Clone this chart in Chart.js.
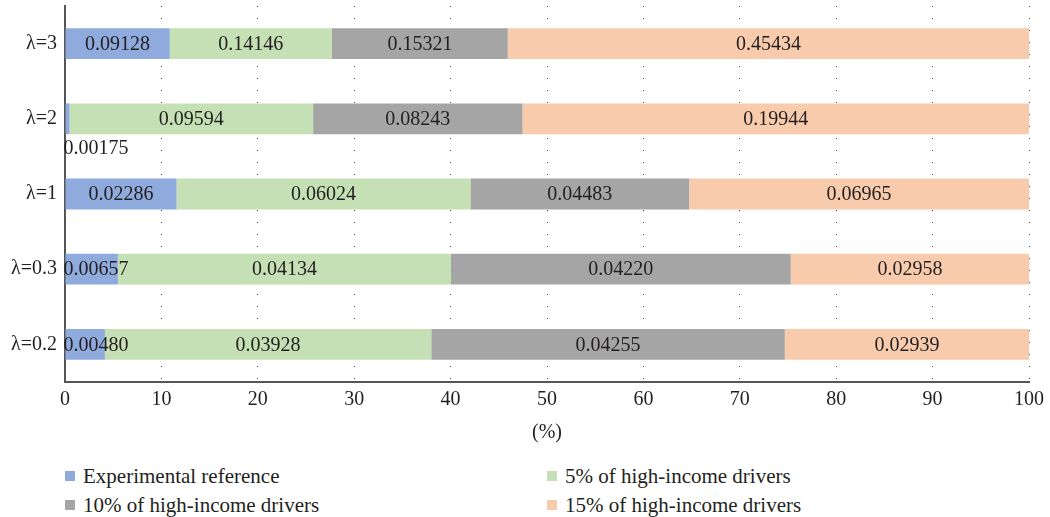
<!DOCTYPE html>
<html>
<head>
<meta charset="utf-8">
<script src="https://cdn.jsdelivr.net/npm/chart.js@4/dist/chart.umd.min.js"></script>
<style>
  html, body { margin: 0; padding: 0; background: #ffffff; }
  #wrap { position: relative; width: 1050px; height: 517px; overflow: hidden; }
  #c { position: absolute; left: 0; top: 0; }
  .item {
    position: absolute; white-space: nowrap; display: flex; align-items: center;
    font-family: "Liberation Serif", serif; font-size: 21px; line-height: 24px; color: #231f20;
  }
  .sw { width: 10px; height: 10px; margin-right: 8px; flex: none; }
</style>
</head>
<body>
<div id="wrap">
  <canvas id="c" width="1050" height="450"></canvas>
  <div id="legend"></div>
</div>
<script>
// Rows, top to bottom
const categories = ["λ=3", "λ=2", "λ=1", "λ=0.3", "λ=0.2"];

// Series names and colours
const seriesNames = [
  "Experimental reference",
  "5% of high-income drivers",
  "10% of high-income drivers",
  "15% of high-income drivers"
];
const seriesColors = ["#8faadc", "#c5e0b4", "#a5a5a5", "#f8cbad"];

// Values per row (same order as categories)
const experimental = [0.09128, 0.00175, 0.02286, 0.00657, 0.00480];
const highIncome5  = [0.14146, 0.09594, 0.06024, 0.04134, 0.03928];
const highIncome10 = [0.15321, 0.08243, 0.04483, 0.04220, 0.04255];
const highIncome15 = [0.45434, 0.19944, 0.06965, 0.02958, 0.02939];

// X axis ticks (%)
const xTicks = [0, 10, 20, 30, 40, 50, 60, 70, 80, 90, 100];

const series = [experimental, highIncome5, highIncome10, highIncome15];

// Share of each value in its row total, in percent
const rowTotals = categories.map((_, i) => series.reduce((s, arr) => s + arr[i], 0));
const toShare = arr => arr.map((v, i) => v / rowTotals[i] * 100);

const FONT = '"Liberation Serif", "Times New Roman", serif';
const TEXT = '#231f20';

// Writes each raw value on its segment
const valueLabels = {
  id: 'valueLabels',
  afterDatasetsDraw(chart) {
    const ctx = chart.ctx;
    ctx.save();
    ctx.font = '20px ' + FONT;
    ctx.fillStyle = TEXT;
    ctx.textBaseline = 'middle';
    chart.data.datasets.forEach((ds, di) => {
      const meta = chart.getDatasetMeta(di);
      meta.data.forEach((bar, i) => {
        const txt = ds.raw[i].toFixed(5);
        const w = ctx.measureText(txt).width;
        const left = Math.min(bar.base, bar.x);
        const right = Math.max(bar.base, bar.x);
        const segW = right - left;
        if (segW >= w + 4) {
          ctx.textAlign = 'center';
          ctx.fillText(txt, (left + right) / 2, bar.y + 1);
        } else if (segW >= 12) {
          ctx.textAlign = 'left';
          ctx.fillText(txt, left - 2, bar.y + 1);
        } else {
          // too thin to hold text: write it under the bar
          ctx.textAlign = 'left';
          ctx.fillText(txt, left - 2, bar.y + bar.height / 2 + 15);
        }
      });
    });
    ctx.restore();
  }
};

const datasets = series.map((arr, k) => ({
  label: seriesNames[k],
  data: toShare(arr),
  raw: arr,
  backgroundColor: seriesColors[k],
  borderWidth: 0,
  barPercentage: 0.41,
  categoryPercentage: 1.0
}));

new Chart(document.getElementById('c'), {
  type: 'bar',
  data: { labels: categories, datasets },
  plugins: [valueLabels],
  options: {
    indexAxis: 'y',
    responsive: false,
    animation: false,
    layout: { padding: { top: 6, right: 21, left: 0, bottom: 0 } },
    plugins: {
      legend: { display: false },
      tooltip: { enabled: false }
    },
    scales: {
      x: {
        stacked: true,
        min: 0,
        max: 100,
        afterBuildTicks: s => { s.ticks = xTicks.map(v => ({ value: v })); },
        afterFit: s => { s.height = 68; },
        ticks: { color: TEXT, font: { family: FONT, size: 20 }, padding: 6, maxRotation: 0 },
        grid: { display: true, color: '#555555', lineWidth: 1, drawTicks: false },
        border: { display: true, color: '#555555', width: 2, dash: [1, 11] },
        title: { display: true, text: '(%)', color: TEXT, font: { family: FONT, size: 20 }, padding: { top: 4, bottom: 5 } }
      },
      y: {
        stacked: true,
        afterFit: s => { s.width = 65; s.paddingTop = 0; s.paddingBottom = 0; },
        ticks: { color: TEXT, font: { family: FONT, size: 20 }, padding: 8 },
        grid: { display: false, drawTicks: false },
        border: { display: true, color: '#555555', width: 2 }
      }
    }
  }
});

// Legend in two columns
const legendPos = [
  { left: 65, top: 464 },
  { left: 547, top: 464 },
  { left: 65, top: 493 },
  { left: 547, top: 493 }
];
const legend = document.getElementById('legend');
seriesNames.forEach((name, k) => {
  const el = document.createElement('div');
  el.className = 'item';
  el.style.left = legendPos[k].left + 'px';
  el.style.top = legendPos[k].top + 'px';
  const sw = document.createElement('span');
  sw.className = 'sw';
  sw.style.background = seriesColors[k];
  const tx = document.createElement('span');
  tx.textContent = name;
  el.appendChild(sw);
  el.appendChild(tx);
  legend.appendChild(el);
});
</script>
</body>
</html>
